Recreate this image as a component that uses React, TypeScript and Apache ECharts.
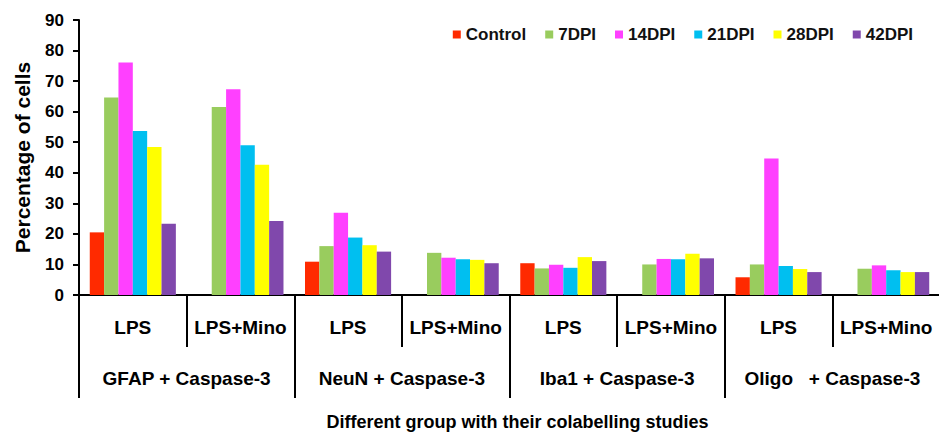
import React, { useEffect, useRef } from "react";
import * as echarts from "echarts";

const subgroups = ["LPS", "LPS+Mino", "LPS", "LPS+Mino", "LPS", "LPS+Mino", "LPS", "LPS+Mino"];
const groups = ["GFAP + Caspase-3", "NeuN + Caspase-3", "Iba1 + Caspase-3", "Oligo   + Caspase-3"];
const seriesNames = ["Control", "7DPI", "14DPI", "21DPI", "28DPI", "42DPI"];
const colors = ["#FF2A00", "#99CC5E", "#FF40FF", "#00BFF0", "#FFFF00", "#8048AC"];

const control = [20.5, null, 10.9, null, 10.4, null, 5.8, null];
const dpi7 = [64.6, 61.5, 16.0, 13.8, 8.7, 10.0, 10.0, 8.6];
const dpi14 = [76.1, 67.3, 26.9, 12.2, 9.9, 11.8, 44.7, 9.7];
const dpi21 = [53.7, 49.0, 18.8, 11.7, 8.9, 11.7, 9.5, 8.1];
const dpi28 = [48.4, 42.6, 16.3, 11.5, 12.4, 13.5, 8.5, 7.5];
const dpi42 = [23.3, 24.2, 14.2, 10.4, 11.1, 12.0, 7.5, 7.5];

const yTicks = [0, 10, 20, 30, 40, 50, 60, 70, 80, 90];

const allSeries = [control, dpi7, dpi14, dpi21, dpi28, dpi42];

const FONT = "'Liberation Sans', Arial, Helvetica, sans-serif";

export default function App() {
  const ref = useRef<HTMLDivElement>(null);
  useEffect(() => {
    if (!ref.current) return;
    const chart = echarts.init(ref.current, undefined, { renderer: "svg" });
    chart.setOption({
      animation: false,
      backgroundColor: "#ffffff",
      textStyle: { fontFamily: FONT },
      legend: {
        top: 21,
        right: 21,
        itemWidth: 8,
        itemHeight: 8,
        itemGap: 19,
        icon: "rect",
        data: seriesNames,
        textStyle: { fontSize: 17, fontWeight: "bold", color: "#111", fontFamily: FONT },
      },
      grid: {
        left: 79,
        right: -1,
        top: 20,
        bottom: 137,
        containLabel: false,
        outerBoundsMode: "none",
      },
      xAxis: [
        {
          type: "category",
          data: subgroups,
          position: "bottom",
          axisLine: { show: true, lineStyle: { color: "#000", width: 2 } },
          axisTick: { show: true, length: 52, interval: 0, lineStyle: { color: "#000", width: 2 } },
          axisLabel: {
            interval: 0,
            margin: 23,
            fontSize: 19,
            fontWeight: "bold",
            color: "#000",
            fontFamily: FONT,
          },
        },
        {
          type: "category",
          data: groups,
          position: "bottom",
          axisLine: { show: false },
          axisTick: { show: true, length: 103, interval: 0, lineStyle: { color: "#000", width: 2 } },
          axisLabel: {
            interval: 0,
            margin: 74,
            fontSize: 19,
            fontWeight: "bold",
            color: "#000",
            fontFamily: FONT,
          },
          name: "Different group with their colabelling studies",
          nameLocation: "middle",
          nameGap: 118,
          nameTextStyle: {
            fontSize: 18,
            fontWeight: "bold",
            color: "#000",
            fontFamily: FONT,
            padding: [0, 0, 0, 16],
          },
        },
      ],
      yAxis: {
        type: "value",
        min: yTicks[0],
        max: yTicks[yTicks.length - 1],
        interval: 10,
        axisLine: { show: true, lineStyle: { color: "#000", width: 2 } },
        axisTick: { show: true, length: 6, lineStyle: { color: "#000", width: 2 } },
        splitLine: { show: false },
        axisLabel: { fontSize: 17, fontWeight: "bold", color: "#000", margin: 15, fontFamily: FONT },
        name: "Percentage of cells",
        nameLocation: "middle",
        nameGap: 46,
        nameTextStyle: { fontSize: 21, fontWeight: "bold", color: "#000", fontFamily: FONT },
      },
      series: seriesNames.map((name, i) => ({
        name,
        type: "bar",
        xAxisIndex: 0,
        data: allSeries[i],
        barGap: "0%",
        barCategoryGap: "20%",
        itemStyle: { color: colors[i] },
      })),
    });
    return () => chart.dispose();
  }, []);
  return (
    <div
      ref={ref}
      style={{ position: "fixed", left: 0, top: 0, width: 939, height: 432, background: "#fff" }}
    />
  );
}
